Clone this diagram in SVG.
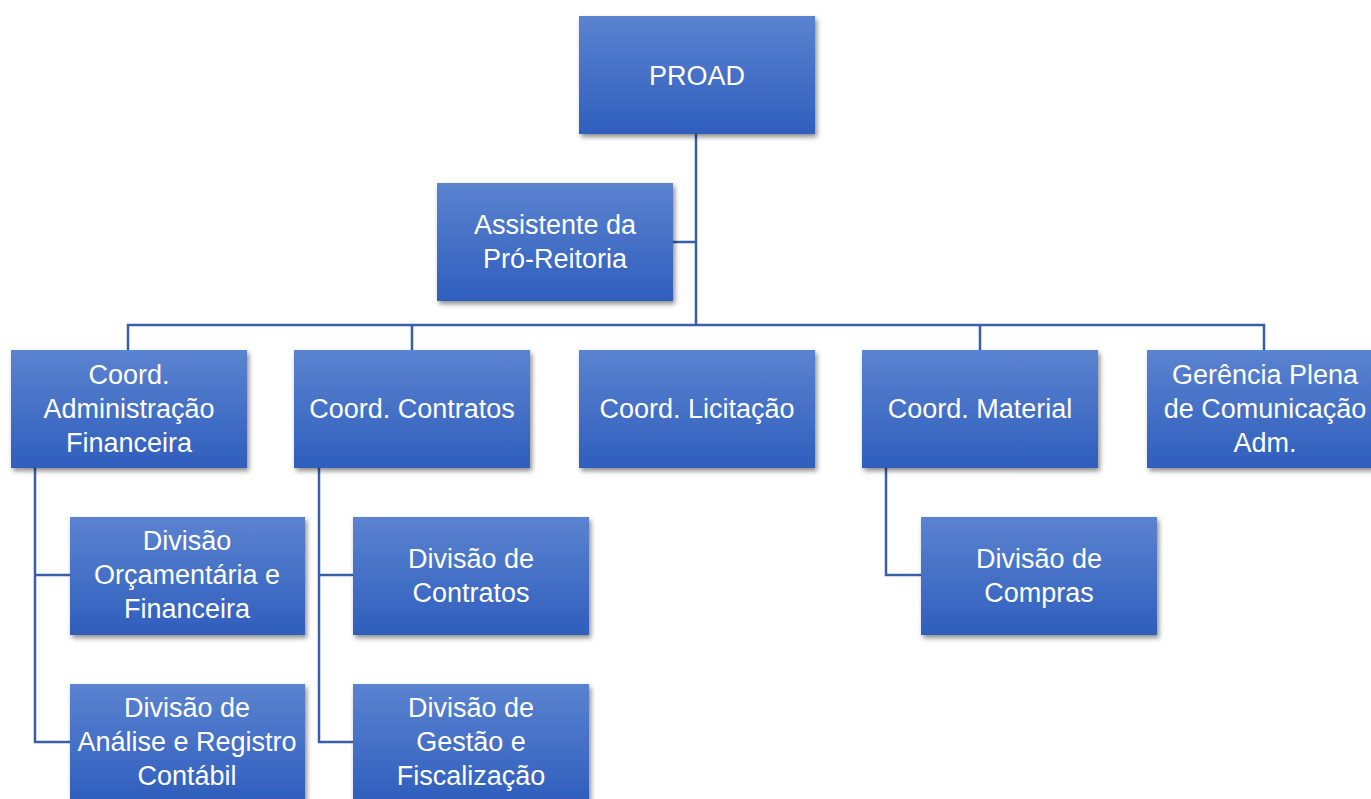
<svg xmlns="http://www.w3.org/2000/svg" width="1371" height="799" viewBox="0 0 1371 799">
<defs>
<linearGradient id="g" x1="0" y1="0" x2="0" y2="1">
<stop offset="0" stop-color="#5b83d0"/>
<stop offset="1" stop-color="#2f5ebd"/>
</linearGradient>
<filter id="sh" x="-10%" y="-10%" width="125%" height="130%">
<feDropShadow dx="2" dy="3" stdDeviation="2.5" flood-color="#000" flood-opacity="0.45"/>
</filter>
</defs>
<style>
.b{fill:url(#g);filter:url(#sh)}
.t{font-family:"Liberation Sans",Arial,sans-serif;font-size:27px;fill:#fff;text-anchor:middle}
.c{stroke:#3a5ea7;stroke-width:2.5;fill:none}
</style>
<rect width="1371" height="799" fill="#fff"/>
<g id="connectors">
<path class="c" d="M696 134V325M673 242H696M128 350V325H1264V350M412 325V350M980 325V350"/>
<path class="c" d="M35 468V742H70M35 575H70"/>
<path class="c" d="M319 468V742H353M319 575H353"/>
<path class="c" d="M886 468V575H921"/>
</g>
<g id="proad"><rect class="b" x="579" y="16" width="236" height="118"/><text class="t" x="697" y="85">PROAD</text></g>
<g id="assistente"><rect class="b" x="437" y="183" width="236" height="118"/><text class="t" x="555" y="234">Assistente da</text><text class="t" x="555" y="268">Pró-Reitoria</text></g>
<g id="coord-adm"><rect class="b" x="11" y="350" width="236" height="118"/><text class="t" x="129" y="384">Coord.</text><text class="t" x="129" y="418">Administração</text><text class="t" x="129" y="452">Financeira</text></g>
<g id="coord-contratos"><rect class="b" x="294" y="350" width="236" height="118"/><text class="t" x="412" y="418">Coord. Contratos</text></g>
<g id="coord-licitacao"><rect class="b" x="579" y="350" width="236" height="118"/><text class="t" x="697" y="418">Coord. Licitação</text></g>
<g id="coord-material"><rect class="b" x="862" y="350" width="236" height="118"/><text class="t" x="980" y="418">Coord. Material</text></g>
<g id="gerencia"><rect class="b" x="1147" y="350" width="236" height="118"/><text class="t" x="1265" y="384">Gerência Plena</text><text class="t" x="1265" y="418">de Comunicação</text><text class="t" x="1265" y="452">Adm.</text></g>
<g id="div-orc"><rect class="b" x="70" y="517" width="235" height="118"/><text class="t" x="187" y="550">Divisão</text><text class="t" x="187" y="584">Orçamentária e</text><text class="t" x="187" y="618">Financeira</text></g>
<g id="div-analise"><rect class="b" x="70" y="684" width="235" height="118"/><text class="t" x="187" y="717">Divisão de</text><text class="t" x="187" y="751">Análise e Registro</text><text class="t" x="187" y="785">Contábil</text></g>
<g id="div-contratos"><rect class="b" x="353" y="517" width="236" height="118"/><text class="t" x="471" y="568">Divisão de</text><text class="t" x="471" y="602">Contratos</text></g>
<g id="div-gestao"><rect class="b" x="353" y="684" width="236" height="118"/><text class="t" x="471" y="717">Divisão de</text><text class="t" x="471" y="751">Gestão e</text><text class="t" x="471" y="785">Fiscalização</text></g>
<g id="div-compras"><rect class="b" x="921" y="517" width="236" height="118"/><text class="t" x="1039" y="568">Divisão de</text><text class="t" x="1039" y="602">Compras</text></g>
</svg>
